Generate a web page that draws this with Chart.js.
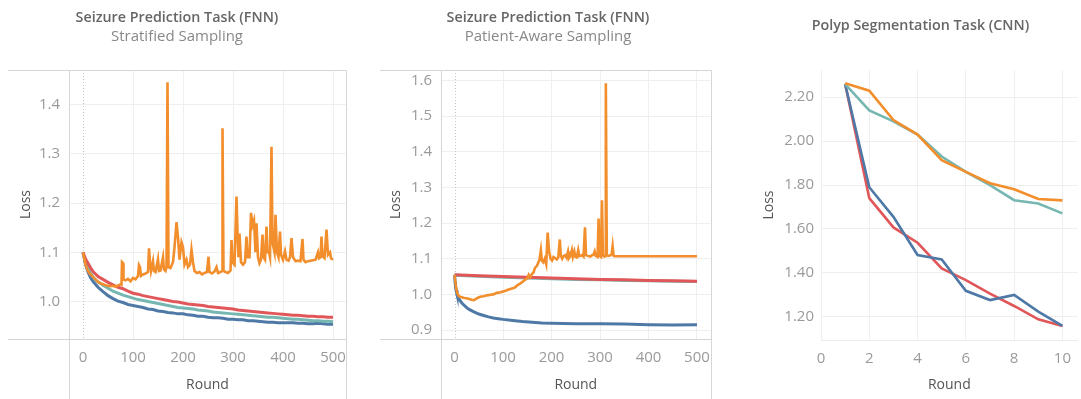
<!DOCTYPE html>
<html>
<head>
<meta charset="utf-8">
<script src="https://cdn.jsdelivr.net/npm/chart.js@4"></script>
<style>
  html, body { margin:0; padding:0; background:#fff; }
  body { width:1081px; height:399px; position:relative; overflow:hidden; font-family:"Open Sans", sans-serif; }
  .panel { position:absolute; top:0; height:399px; }
  .title { position:absolute; width:100%; text-align:center; color:#666; font-size:14.3px; font-weight:600; white-space:nowrap; }
  .sub { position:absolute; width:100%; text-align:center; color:#888; font-size:15px; white-space:nowrap; }
  canvas { position:absolute; left:0; top:0; }
</style>
</head>
<body>
<div class="panel" id="pn1" style="left:0;width:360px;">
  <canvas id="c1" width="360" height="399"></canvas>
  <div class="title" style="left:-3px;top:7px;">Seizure Prediction Task (FNN)</div>
  <div class="sub" style="left:-3px;top:25px;">Stratified Sampling</div>
</div>
<div class="panel" id="pn2" style="left:360px;width:360px;">
  <canvas id="c2" width="360" height="399"></canvas>
  <div class="title" style="left:8px;top:7px;">Seizure Prediction Task (FNN)</div>
  <div class="sub" style="left:8px;top:25px;">Patient-Aware Sampling</div>
</div>
<div class="panel" id="pn3" style="left:720px;width:361px;">
  <canvas id="c3" width="361" height="399"></canvas>
  <div class="title" style="left:20px;top:15px;">Polyp Segmentation Task (CNN)</div>
</div>
<script>
// ---------------- DATA ----------------
// Panel 1: Seizure Prediction (FNN), Stratified Sampling
const p1SmoothRounds = [0,3,6,10,15,20,25,30,40,50,60,70,80,90,100,110,120,130,140,150,160,170,180,190,200,210,220,230,240,250,260,270,280,290,300,310,320,330,340,350,360,370,380,390,400,410,420,430,440,450,460,470,480,490,500];
const p1Blue  = [1.100,1.085,1.072,1.060,1.049,1.041,1.035,1.029,1.020,1.012,1.006,1.001,0.998,0.994,0.992,0.990,0.988,0.985,0.984,0.981,0.980,0.978,0.977,0.975,0.975,0.973,0.972,0.970,0.970,0.968,0.967,0.967,0.966,0.964,0.964,0.963,0.963,0.961,0.961,0.960,0.959,0.958,0.958,0.957,0.957,0.957,0.957,0.956,0.956,0.955,0.955,0.956,0.955,0.954,0.954];
const p1Red   = [1.100,1.092,1.085,1.078,1.069,1.061,1.056,1.051,1.045,1.039,1.034,1.029,1.026,1.021,1.017,1.015,1.012,1.010,1.008,1.006,1.004,1.002,1.000,0.999,0.997,0.995,0.994,0.993,0.992,0.990,0.989,0.988,0.987,0.986,0.985,0.983,0.982,0.981,0.980,0.979,0.978,0.977,0.976,0.975,0.974,0.973,0.972,0.972,0.971,0.970,0.970,0.969,0.969,0.968,0.968];
const p1Teal  = [1.100,1.088,1.078,1.069,1.058,1.050,1.044,1.040,1.033,1.027,1.021,1.017,1.013,1.010,1.007,1.004,1.002,1.000,0.998,0.996,0.994,0.992,0.990,0.988,0.987,0.986,0.985,0.983,0.982,0.981,0.979,0.978,0.977,0.976,0.975,0.974,0.973,0.972,0.971,0.970,0.969,0.968,0.968,0.967,0.966,0.965,0.964,0.964,0.963,0.962,0.961,0.961,0.960,0.960,0.959];
const p1OrangeRounds = [0,5,10,15,20,25,30,35,40,45,50,55,60,65,70,75,77,78,80,81,85,90,95,100,105,110,112,114,116,120,125,130,132,134,136,140,142,145,150,152,155,160,162,165,167,169,171,175,180,183,187,190,193,197,200,203,207,210,214,217,220,223,228,233,238,243,248,251,253,258,263,267,270,275,278,279,281,285,290,295,297,299,303,307,309,311,313,316,320,324,327,329,333,336,339,342,345,347,350,353,356,359,361,364,367,369,372,374,377,379,383,385,388,391,394,396,400,404,407,411,414,417,420,425,430,435,439,441,445,450,455,460,465,470,472,475,477,479,483,487,490,494,496,500];
const p1Orange = [1.100,1.075,1.062,1.055,1.050,1.045,1.040,1.037,1.035,1.033,1.032,1.031,1.032,1.030,1.033,1.035,1.034,1.080,1.078,1.045,1.043,1.046,1.041,1.048,1.045,1.052,1.074,1.070,1.052,1.055,1.057,1.060,1.108,1.080,1.062,1.082,1.062,1.060,1.086,1.062,1.063,1.090,1.065,1.062,1.070,1.445,1.070,1.068,1.080,1.110,1.161,1.130,1.085,1.120,1.110,1.075,1.085,1.070,1.075,1.105,1.080,1.062,1.058,1.060,1.055,1.058,1.060,1.091,1.060,1.057,1.061,1.070,1.058,1.060,1.062,1.352,1.062,1.060,1.058,1.063,1.125,1.080,1.075,1.213,1.140,1.090,1.138,1.080,1.075,1.080,1.132,1.090,1.090,1.180,1.155,1.165,1.100,1.159,1.090,1.078,1.085,1.136,1.090,1.085,1.152,1.100,1.100,1.090,1.314,1.120,1.100,1.176,1.100,1.090,1.142,1.095,1.085,1.102,1.085,1.083,1.090,1.129,1.090,1.082,1.083,1.082,1.127,1.085,1.080,1.082,1.083,1.084,1.085,1.100,1.088,1.090,1.132,1.092,1.088,1.146,1.095,1.100,1.088,1.085];
const p1TicksX = [0,100,200,300,400,500];
const p1TicksY = [1.0,1.1,1.2,1.3,1.4];

// Panel 2: Seizure Prediction (FNN), Patient-Aware Sampling
const p2LineRounds = [0,50,100,150,200,250,300,350,400,450,500];
const p2Red  = [1.055,1.052,1.050,1.048,1.046,1.044,1.042,1.041,1.039,1.038,1.037];
const p2Teal = [1.054,1.051,1.048,1.046,1.044,1.042,1.041,1.039,1.038,1.037,1.036];
const p2BlueRounds = [0,1,2,3,5,7,10,15,20,25,30,40,50,60,70,80,90,100,120,140,160,180,200,250,300,350,400,450,500];
const p2Blue = [1.055,1.035,1.022,1.012,1.000,0.993,0.985,0.976,0.969,0.963,0.958,0.951,0.945,0.941,0.937,0.934,0.932,0.930,0.927,0.924,0.922,0.920,0.919,0.918,0.918,0.917,0.915,0.914,0.915];
const p2OrangeRounds = [0,2,4,6,8,10,15,20,25,30,35,40,45,50,55,60,65,70,75,80,85,90,95,100,105,110,115,120,125,130,135,140,145,150,153,156,160,163,166,170,173,175,178,180,183,186,189,192,195,198,201,204,208,211,214,217,219,222,225,228,231,234,236,239,242,244,247,249,252,255,257,260,263,266,269,271,275,280,284,287,289,291,295,297,299,302,304,306,309,311,312,314,318,322,324,326,328,330,400,500];
const p2Orange = [1.055,1.030,1.012,1.002,0.997,0.994,0.992,0.990,0.989,0.987,0.985,0.984,0.988,0.992,0.994,0.995,0.997,0.998,0.999,1.000,1.003,1.005,1.006,1.008,1.010,1.013,1.015,1.017,1.020,1.026,1.030,1.035,1.041,1.045,1.055,1.048,1.058,1.062,1.075,1.080,1.090,1.096,1.124,1.095,1.090,1.100,1.085,1.173,1.120,1.100,1.095,1.105,1.101,1.098,1.104,1.154,1.110,1.100,1.108,1.110,1.103,1.120,1.102,1.108,1.124,1.105,1.120,1.106,1.104,1.124,1.107,1.108,1.110,1.106,1.188,1.110,1.108,1.106,1.110,1.112,1.120,1.108,1.105,1.213,1.108,1.105,1.264,1.110,1.106,1.108,1.592,1.110,1.108,1.110,1.112,1.135,1.108,1.107,1.107,1.107];
const p2TicksX = [0,100,200,300,400,500];
const p2TicksY = [0.9,1.0,1.1,1.2,1.3,1.4,1.5,1.6];

// Panel 3: Polyp Segmentation (CNN)
const p3Rounds = [1,2,3,4,5,6,7,8,9,10];
const p3Blue   = [2.260,1.790,1.655,1.481,1.461,1.318,1.276,1.299,1.223,1.158];
const p3Red    = [2.260,1.740,1.607,1.537,1.420,1.367,1.305,1.249,1.188,1.158];
const p3Orange = [2.264,2.230,2.096,2.030,1.913,1.860,1.808,1.781,1.736,1.730];
const p3Teal   = [2.260,2.140,2.090,2.030,1.930,1.860,1.800,1.731,1.716,1.671];
const p3TicksX = [0,2,4,6,8,10];
const p3TicksY = [1.2,1.4,1.6,1.8,2.0,2.2];

// ---------------- STYLE ----------------
const C = { blue:'#4e79a7', orange:'#f28e2b', red:'#e15759', teal:'#76b7b2' };
const FONT = '"Open Sans", sans-serif';
const pts = (xs, ys) => xs.map((x, i) => ({x, y: ys[i]}));

function ds(label, xs, ys, color, w) {
  return { label, data: pts(xs, ys), borderColor: color, backgroundColor: color,
           borderWidth: w, pointRadius: 0, tension: 0, fill: false };
}

function framePlugin(opt) {
  return {
    id: 'frame',
    beforeDatasetsDraw(chart) {
      const ctx = chart.ctx, a = chart.chartArea, xs = chart.scales.x;
      ctx.save();
      if (opt.zeroDotted) {
        const zx = Math.round(xs.getPixelForValue(0)) + 0.5;
        ctx.strokeStyle = '#c8c8c8'; ctx.lineWidth = 1; ctx.setLineDash([1, 2]);
        ctx.beginPath(); ctx.moveTo(zx, a.top); ctx.lineTo(zx, a.bottom); ctx.stroke();
        ctx.setLineDash([]);
      }
      ctx.restore();
    },
    afterDraw(chart) {
      const ctx = chart.ctx, a = chart.chartArea;
      ctx.save();
      ctx.lineWidth = 1;
      if (opt.frame) {
        ctx.strokeStyle = '#d6d6d6';
        const t = Math.round(a.top) + 0.5, b = Math.round(a.bottom) + 0.5;
        const l = Math.round(a.left) + 0.5, r = Math.round(a.right) + 0.5;
        ctx.beginPath();
        ctx.moveTo(opt.frameLeft, t); ctx.lineTo(r, t);
        ctx.moveTo(opt.frameLeft, b); ctx.lineTo(r, b);
        ctx.moveTo(l, t); ctx.lineTo(l, chart.height);
        ctx.moveTo(r, t); ctx.lineTo(r, chart.height);
        ctx.stroke();
      } else {
        ctx.strokeStyle = '#ececec';
        const b = Math.round(a.bottom) + 0.5;
        ctx.beginPath(); ctx.moveTo(a.left, b); ctx.lineTo(a.right, b); ctx.stroke();
      }
      ctx.restore();
    }
  };
}

function makeChart(id, o) {
  return new Chart(document.getElementById(id), {
    type: 'line',
    data: { datasets: o.datasets },
    plugins: [framePlugin(o)],
    options: {
      responsive: false, animation: false, parsing: true,
      layout: { padding: { top: 70, right: o.padRight, left: 0, bottom: 0 } },
      plugins: { legend: { display: false }, tooltip: { enabled: false }, title: { display: false } },
      scales: {
        x: {
          type: 'linear', min: o.xMin, max: o.xMax,
          afterFit: s => { s.height = o.xAxisH; },
          afterBuildTicks: s => { s.ticks = o.ticksX.map(v => ({ value: v })); },
          grid: { color: ctx => (o.zeroDotted && ctx.tick && ctx.tick.value === 0) ? 'rgba(0,0,0,0)' : '#efefef',
                  drawTicks: false, lineWidth: 1 },
          border: { display: false },
          ticks: { color: '#9a9a9a', font: { family: FONT, size: 15 }, padding: 10, maxRotation: 0,
                   autoSkip: false, callback: v => String(v) },
          title: { display: true, text: 'Round', color: '#555', font: { family: FONT, size: 14 },
                   padding: { top: 0, bottom: 6 } }
        },
        y: {
          type: 'linear', min: o.yMin, max: o.yMax,
          afterFit: s => { s.width = o.yAxisW; },
          afterBuildTicks: s => { s.ticks = o.ticksY.map(v => ({ value: v })); },
          grid: { color: '#efefef', drawTicks: false, lineWidth: 1 },
          border: { display: false },
          ticks: { color: '#9a9a9a', font: { family: FONT, size: 15 }, padding: o.yTickPad,
                   autoSkip: false, callback: v => v.toFixed(o.yDec) },
          title: { display: true, text: 'Loss', color: '#555', font: { family: FONT, size: 14 },
                   padding: { top: o.yTitleTop, bottom: 0 } }
        }
      }
    }
  });
}

makeChart('c1', {
  datasets: [
    ds('Orange', p1OrangeRounds, p1Orange, C.orange, 2.6),
    ds('Red', p1SmoothRounds, p1Red, C.red, 3),
    ds('Teal', p1SmoothRounds, p1Teal, C.teal, 3),
    ds('Blue', p1SmoothRounds, p1Blue, C.blue, 3)
  ],
  xMin: -28, xMax: 526, yMin: 0.924, yMax: 1.47,
  ticksX: p1TicksX, ticksY: p1TicksY, yDec: 1,
  padRight: 14, yAxisW: 69, xAxisH: 60, yTickPad: 9, yTitleTop: 18,
  frame: true, frameLeft: 8, zeroDotted: true
});

makeChart('c2', {
  datasets: [
    ds('Orange', p2OrangeRounds, p2Orange, C.orange, 2.6),
    ds('Blue', p2BlueRounds, p2Blue, C.blue, 3),
    ds('Red', p2LineRounds, p2Red, C.red, 3),
    ds('Teal', p2LineRounds, p2Teal, C.teal, 3)
  ],
  xMin: -28, xMax: 528, yMin: 0.875, yMax: 1.629,
  ticksX: p2TicksX, ticksY: p2TicksY, yDec: 1,
  padRight: 3, yAxisW: 81, xAxisH: 60, yTickPad: 9, yTitleTop: 28,
  frame: true, frameLeft: 20, zeroDotted: true
});

makeChart('c3', {
  datasets: [
    ds('Orange', p3Rounds, p3Orange, C.orange, 2.6),
    ds('Teal', p3Rounds, p3Teal, C.teal, 2.6),
    ds('Blue', p3Rounds, p3Blue, C.blue, 2.6),
    ds('Red', p3Rounds, p3Red, C.red, 2.6)
  ],
  xMin: 0, xMax: 10.63, yMin: 1.094, yMax: 2.324,
  ticksX: p3TicksX, ticksY: p3TicksY, yDec: 2,
  padRight: 0, yAxisW: 101, xAxisH: 59, yTickPad: 7, yTitleTop: 41,
  frame: false, frameLeft: 0, zeroDotted: false
});
</script>
</body>
</html>
